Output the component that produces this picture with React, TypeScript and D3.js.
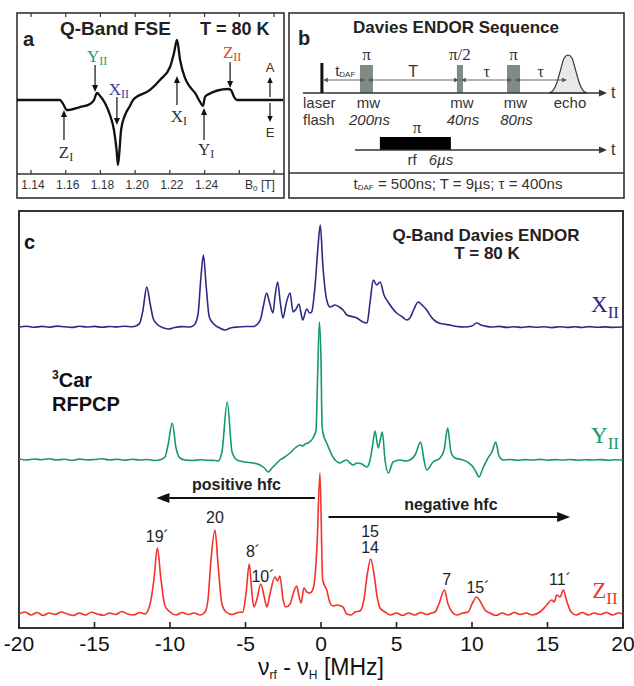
import React from 'react';
import * as d3 from 'd3';

const sans = '"Liberation Sans", Arial, Helvetica, sans-serif';
const serif = '"Liberation Serif", "Times New Roman", serif';

// ---- panel a: Q-band field swept echo (B0 in T, amplitude a.u.) ----
const fseField = [1.1319, 1.1567, 1.1584, 1.1607, 1.1682, 1.174, 1.1763, 1.178, 1.1798, 1.1826,
  1.1855, 1.1878, 1.1893, 1.1901, 1.191, 1.1919, 1.1942, 1.197, 1.1988, 1.2086,
  1.2143, 1.2201, 1.2224, 1.2241, 1.2259, 1.2287, 1.2316, 1.2345, 1.2374, 1.2391,
  1.2402, 1.2414, 1.2535, 1.2552, 1.257, 1.2587, 1.2852];
const fseAmp = [0, 0, -0.06, -0.167, -0.117, -0.067, 0, 0.117, 0.067, -0.05,
  -0.25, -0.5, -0.833, -1.083, -0.833, -0.5, -0.25, -0.1, 0, 0.167,
  0.333, 0.55, 0.783, 1.0, 0.667, 0.367, 0.217, 0.117, -0.033, -0.1,
  0.05, 0.083, 0.183, 0.167, 0.05, 0, 0];
const fseTicks = [1.14, 1.16, 1.18, 1.2, 1.22, 1.24, 1.26, 1.28];
const fseTickLabels = ['1.14', '1.16', '1.18', '1.20', '1.22', '1.24'];
const fseMarkers = [
  { name: 'Z', sub: 'I', field: 1.159, from: -0.667, to: -0.167, label: -0.967, color: '#333' },
  { name: 'Y', sub: 'II', field: 1.1769, from: 0.583, to: 0.133, label: 0.633, color: '#1a9b74' },
  { name: 'X', sub: 'II', field: 1.1895, from: 0.05, to: -0.417, label: 0.083, color: '#3b3a9c' },
  { name: 'X', sub: 'I', field: 1.2241, from: -0.083, to: 0.4, label: -0.367, color: '#333' },
  { name: 'Y', sub: 'I', field: 1.2397, from: -0.667, to: -0.133, label: -0.917, color: '#333' },
  { name: 'Z', sub: 'II', field: 1.2547, from: 0.633, to: 0.2, label: 0.7, color: '#e8402f' },
];

// ---- panel b: Davies ENDOR sequence (schematic time units 0..100) ----
const laserAt = 5.6;
const mwPulses = [
  { flip: 'π', start: 18.2, end: 22.5, len: '200ns' },
  { flip: 'π/2', start: 50.3, end: 52.3, len: '40ns' },
  { flip: 'π', start: 66.9, end: 71.2, len: '80ns' },
];
const echoAt = 87.1;
const echoOffset = [-6.3, -5, -3.8, -2.5, -1.3, 0, 1.3, 2.5, 3.8, 5, 6.3];
const echoAmp = [0, 0.06, 0.25, 0.6, 0.92, 1, 0.92, 0.6, 0.25, 0.06, 0];
const rfPulse = { start: 24.8, end: 48.3, len: '6µs' };
const delays = ['tDAF', 'T', 'τ', 'τ'];

// ---- panel c: Q-band Davies ENDOR spectra [nu_rf - nu_H (MHz), intensity] ----
const xIISpectrum = [[-20, 0], [-19.5, 0.8], [-19, -0.3], [-18.5, 0.6], [-18, -0.2], [-17.5, 0.9], [-17, 0.2], [-16.5, -0.4], [-16, 0.7], [-15.5, 0], [-15, 0.6], [-14.5, -0.3], [-14, 0.5], [-13.5, 0.1], [-13, 0.8], [-12.5, 0.2], [-12.2, 1.5], [-12.0, 4], [-11.8, 16], [-11.54, 40], [-11.3, 22], [-11.1, 8], [-10.8, 2], [-10.4, -1], [-10.1, -2], [-9.7, -0.5], [-9.2, 0.4], [-8.7, 0], [-8.4, 2], [-8.15, 12], [-7.95, 50], [-7.79, 72], [-7.6, 40], [-7.4, 10], [-7.1, 3], [-6.7, -1], [-6.36, -3], [-6.0, -1], [-5.5, 0], [-5.0, 0.5], [-4.5, 0.5], [-4.2, 3], [-4.0, 8], [-3.8, 22], [-3.6, 34], [-3.4, 24], [-3.18, 14], [-3.05, 30], [-2.87, 45], [-2.7, 25], [-2.52, 9], [-2.3, 24], [-2.05, 34], [-1.85, 15], [-1.65, 18], [-1.46, 23], [-1.3, 12], [-1.21, 7], [-0.95, 18], [-0.75, 14], [-0.62, 15], [-0.4, 40], [-0.2, 80], [-0.05, 102], [0.13, 60], [0.38, 27], [0.6, 20], [0.93, 22], [1.2, 20], [1.46, 17], [1.72, 12], [2.38, 9], [2.78, 5], [3.05, 4], [3.25, 25], [3.46, 47], [3.69, 42], [3.91, 45], [4.17, 32], [4.44, 25], [5.01, 14], [5.4, 10], [5.68, 7], [5.89, 9], [6.16, 18], [6.44, 25], [6.69, 22], [7.0, 17], [7.3, 10], [7.66, 5], [8.1, 3], [8.54, 2], [9.0, 0.5], [9.5, 0], [10.0, 1], [10.31, 4], [10.6, 2], [10.86, 1], [11.3, 0], [11.8, 0.6], [12.3, -0.4], [12.8, 0.3], [13.3, -0.5], [13.8, 0.4], [14.3, -0.3], [14.8, 0.2], [15.3, -0.6], [15.8, 0.3], [16.3, -0.4], [16.8, 0.2], [17.3, -0.5], [17.8, 0.4], [18.3, -0.3], [18.8, 0.1], [19.3, -0.4], [20, 0]];

const yIISpectrum = [[-20, 1], [-19.5, 0], [-19, 1], [-18.5, 0.3], [-18, 1.2], [-17.5, 0], [-17, 0.8], [-16.5, -0.3], [-16, 0.9], [-15.5, 0], [-15, 0.5], [-14.5, 1.2], [-14, 0], [-13.5, 0.7], [-13, -0.2], [-12.5, 0.8], [-12, 0], [-11.5, 0.5], [-11, -0.5], [-10.6, 0.5], [-10.33, 3], [-10.13, 15], [-9.85, 37], [-9.6, 12], [-9.34, 2], [-9.0, 0], [-8.5, -0.5], [-8.0, 0.3], [-7.5, -0.3], [-7.0, -0.5], [-6.82, -1], [-6.56, 8], [-6.21, 58], [-5.89, 8], [-5.56, 0], [-5.03, -2], [-4.5, -3], [-4.04, -5], [-3.75, -8], [-3.49, -12], [-3.25, -8], [-3.05, -5], [-2.72, 0], [-2.4, 3], [-2.05, 7], [-1.72, 12], [-1.39, 15], [-1.2, 14], [-1.06, 16], [-0.86, 17], [-0.53, 22], [-0.33, 30], [-0.23, 80], [-0.11, 138], [0.0, 100], [0.07, 35], [0.13, 27], [0.38, 17], [0.79, 3], [1.0, -1], [1.26, -3], [1.5, -1], [1.7, 0], [1.92, -3], [2.12, -5], [2.4, -3], [2.7, -4], [3.03, -7], [3.25, 0], [3.42, 15], [3.58, 29], [3.79, 12], [3.92, 20], [4.06, 28], [4.24, 0], [4.46, -13], [4.77, -2], [5.23, 0], [5.6, -1], [5.89, 0], [6.23, 5], [6.6, 18], [6.82, 0], [7.0, -10], [7.42, -2], [7.88, 2], [8.15, 10], [8.39, 32], [8.61, 8], [8.87, 2], [9.4, 0], [9.8, -3], [10.07, -7], [10.3, -13], [10.46, -17], [10.73, -8], [11.06, 2], [11.32, 8], [11.57, 18], [11.79, 4], [12.05, 0], [12.5, 0.5], [13, -0.3], [13.5, 0.4], [14, 0], [14.5, 0.6], [15, -0.2], [15.5, 0.4], [16, 0], [16.5, 0.5], [17, -0.3], [17.5, 0.3], [18, 0], [18.5, 0.4], [19, -0.2], [19.5, 0.3], [20, 0]];

const zIISpectrum = [[-20, 0], [-19.6, 2], [-19.2, -1], [-18.8, 1.5], [-18.4, -1.5], [-18, 1], [-17.6, -0.5], [-17.2, 2], [-16.8, 0], [-16.4, -1.5], [-16, 1], [-15.6, -1], [-15.2, 1.8], [-14.8, 0], [-14.4, -1.2], [-14, 1], [-13.6, -0.5], [-13.2, 2.5], [-12.8, 0], [-12.4, -1], [-12, 1.5], [-11.66, 0], [-11.32, 10], [-11.06, 35], [-10.84, 66], [-10.6, 35], [-10.33, 8], [-10.0, 2], [-9.6, -1], [-9.2, 1.5], [-8.8, -0.5], [-8.4, 1], [-8.0, -1], [-7.68, 2], [-7.48, 15], [-7.28, 55], [-7.02, 84], [-6.82, 50], [-6.56, 10], [-6.29, 2], [-5.9, -0.5], [-5.5, 1.5], [-5.17, 2], [-4.97, 20], [-4.75, 50], [-4.57, 20], [-4.44, 7], [-4.24, 15], [-3.99, 30], [-3.77, 18], [-3.58, 7], [-3.38, 20], [-3.05, 37], [-2.88, 33], [-2.72, 38], [-2.52, 15], [-2.32, 7], [-2.05, 10], [-1.85, 20], [-1.61, 28], [-1.46, 18], [-1.32, 11], [-1.13, 26], [-0.93, 22], [-0.73, 21], [-0.53, 25], [-0.4, 37], [-0.26, 70], [-0.07, 141], [0.11, 34], [0.38, 24], [0.6, 11], [0.79, 8], [1.04, 9], [1.46, 7], [1.7, 0], [2.0, -1], [2.25, 2], [2.58, 3], [2.85, 15], [3.05, 38], [3.29, 55], [3.51, 40], [3.71, 18], [3.91, 6], [4.24, 2], [4.6, -1], [5.0, 1], [5.4, -1.5], [5.8, 1], [6.2, -1], [6.6, 1.5], [7.0, -0.5], [7.3, 1], [7.55, 2], [7.81, 10], [8.17, 24], [8.41, 10], [8.68, 2], [9.0, -1], [9.4, 1], [9.74, 2], [10.0, 10], [10.31, 17], [10.53, 13], [10.86, 4], [11.19, 1], [11.6, -1.5], [12, 1], [12.4, -1], [12.8, 1.5], [13.2, -0.5], [13.6, 1], [14.0, -1], [14.5, 2], [14.9, 8], [15.28, 14], [15.45, 12], [15.61, 19], [15.83, 17], [16.05, 24], [16.29, 12], [16.56, 2], [16.9, -1], [17.3, 1.5], [17.7, -1], [18.1, 1], [18.5, -0.5], [18.9, 1.5], [19.3, -1], [19.7, 1], [20, 0]];

const freqTicks = [-20, -15, -10, -5, 0, 5, 10, 15, 20];
// assignment labels over the Z_II trace: [text lines, MHz, intensity of label baseline]
const peakLabels = [
  { lines: ['19´'], freq: -10.84, level: 72 },
  { lines: ['20'], freq: -7.02, level: 91 },
  { lines: ['8´'], freq: -4.5, level: 57 },
  { lines: ['10´'], freq: -3.84, level: 32 },
  { lines: ['15', '14'], freq: 3.25, level: 61 },
  { lines: ['7'], freq: 8.32, level: 29 },
  { lines: ['15´'], freq: 10.4, level: 21 },
  { lines: ['11´'], freq: 15.83, level: 29 },
];
const hfcArrows = [
  { label: 'positive hfc', from: -0.4, to: -10.9, level: 116, textAt: -5.6, textLevel: 124 },
  { label: 'negative hfc', from: 0.5, to: 16.5, level: 97, textAt: 8.6, textLevel: 104 },
];

function Arrow({ x1, y1, x2, y2, head = 8, half = 3.5, width = 1.3, color = '#111' }) {
  const ang = Math.atan2(y2 - y1, x2 - x1);
  const bx = x2 - head * Math.cos(ang);
  const by = y2 - head * Math.sin(ang);
  const px = -Math.sin(ang) * half;
  const py = Math.cos(ang) * half;
  return (
    <g>
      <line x1={x1} y1={y1} x2={bx} y2={by} stroke={color} strokeWidth={width} />
      <path d={`M${x2},${y2}L${bx + px},${by + py}L${bx - px},${by - py}Z`} fill={color} />
    </g>
  );
}

function SubLabel({ x, y, name, sub, size, subSize, color, dy = 4 }) {
  return (
    <text x={x} y={y} textAnchor="middle" fontFamily={serif} fontSize={size} fill={color}>
      {name}
      <tspan fontSize={subSize} dy={dy}>{sub}</tspan>
    </text>
  );
}

function PanelA() {
  const xA = d3.scaleLinear().domain([1.14, 1.28]).range([31, 274]);
  const yA = d3.scaleLinear().domain([-1, 1]).range([160, 40]);
  const path = d3.line().x((_, i) => xA(fseField[i])).y((d) => yA(d)).curve(d3.curveMonotoneX)(fseAmp);
  return (
    <g>
      <rect x={17} y={13} width={267} height={185} fill="none" stroke="#333" strokeWidth={1.6} />
      <line x1={17} x2={284} y1={174} y2={174} stroke="#333" strokeWidth={1.3} />
      {fseTicks.map((t) => (
        <g key={t}>
          <line x1={xA(t)} x2={xA(t)} y1={13} y2={17} stroke="#333" strokeWidth={1.2} />
          <line x1={xA(t)} x2={xA(t)} y1={174} y2={170} stroke="#333" strokeWidth={1.2} />
        </g>
      ))}
      {fseTickLabels.map((t, i) => (
        <text key={t} x={xA(fseTicks[i]) + 2} y={189} textAnchor="middle" fontFamily={sans} fontSize={12} fill="#333">{t}</text>
      ))}
      <text x={260} y={189} textAnchor="middle" fontFamily={sans} fontSize={12} fill="#333">
        B<tspan fontSize={8} dy={2}>0</tspan><tspan dy={-2}> [T]</tspan>
      </text>
      <text x={23} y={46} fontFamily={sans} fontWeight="bold" fontSize={20} fill="#222">a</text>
      <text x={60} y={35} fontFamily={sans} fontWeight="bold" fontSize={19} fill="#222">Q-Band FSE</text>
      <text x={200} y={35} fontFamily={sans} fontWeight="bold" fontSize={18} fill="#222">T = 80 K</text>
      <path d={path} fill="none" stroke="#111" strokeWidth={2.3} strokeLinejoin="round" />
      {fseMarkers.map((m, i) => (
        <g key={i}>
          <Arrow x1={xA(m.field)} y1={yA(m.from)} x2={xA(m.field)} y2={yA(m.to)} head={7} half={3} width={1.2} />
          <SubLabel x={xA(m.field) + 2} y={yA(m.label)} name={m.name} sub={m.sub} size={17} subSize={12} color={m.color} dy={3} />
        </g>
      ))}
      <text x={270} y={72} textAnchor="middle" fontFamily={sans} fontSize={13} fill="#333">A</text>
      <Arrow x1={270} y1={97} x2={270} y2={77} head={6} half={2.8} width={1.2} />
      <Arrow x1={270} y1={103} x2={270} y2={122} head={6} half={2.8} width={1.2} />
      <text x={270} y={137} textAnchor="middle" fontFamily={sans} fontSize={13} fill="#333">E</text>
    </g>
  );
}

function PanelB() {
  const tB = d3.scaleLinear().domain([0, 100]).range([305, 607]);
  const axisY = 93;
  const rfY = 150;
  const arrowY = 80;
  const echoPath = d3.area()
    .x((_, i) => tB(echoAt + echoOffset[i]))
    .y0(axisY)
    .y1((d) => axisY - 38 * d)
    .curve(d3.curveMonotoneX)(echoAmp);
  const marks = [laserAt, ...mwPulses.map((p) => (p.start + p.end) / 2), echoAt];
  return (
    <g>
      <rect x={289} y={13} width={335} height={185} fill="none" stroke="#333" strokeWidth={1.6} />
      <line x1={289} x2={624} y1={173} y2={173} stroke="#333" strokeWidth={1.3} />
      <text x={298} y={45} fontFamily={sans} fontWeight="bold" fontSize={20} fill="#222">b</text>
      <text x={456} y={33} textAnchor="middle" fontFamily={sans} fontWeight="bold" fontSize={17} fill="#222">Davies ENDOR Sequence</text>
      <path d={echoPath} fill="#e8e8e8" stroke="#333" strokeWidth={1.2} />
      {mwPulses.map((p, i) => (
        <g key={i}>
          <rect x={tB(p.start)} y={65} width={tB(p.end) - tB(p.start)} height={axisY - 65} fill="#7f8b82" />
          <text x={tB((p.start + p.end) / 2)} y={60} textAnchor="middle" fontFamily={serif} fontSize={17} fill="#333">{p.flip}</text>
          <text x={tB((p.start + p.end) / 2) + 2} y={108} textAnchor="middle" fontFamily={sans} fontSize={15} fill="#333">mw</text>
          <text x={tB((p.start + p.end) / 2) + 3} y={125} textAnchor="middle" fontFamily={sans} fontStyle="italic" fontSize={15} fill="#333">{p.len}</text>
        </g>
      ))}
      <Arrow x1={tB(-0.7)} y1={axisY} x2={607} y2={axisY} head={8} half={3.5} width={1.3} color="#333" />
      <text x={611} y={98} fontFamily={sans} fontSize={16} fill="#333">t</text>
      <line x1={tB(laserAt)} x2={tB(laserAt)} y1={63} y2={axisY} stroke="#111" strokeWidth={3} />
      {delays.map((d, i) => {
        const a = tB(marks[i]);
        const b = tB(marks[i + 1]);
        const mid = (a + b) / 2;
        return (
          <g key={i}>
            <Arrow x1={mid} y1={arrowY} x2={a + 1} y2={arrowY} head={5} half={2.2} width={0.9} color="#555" />
            <Arrow x1={mid} y1={arrowY} x2={b - 1} y2={arrowY} head={5} half={2.2} width={0.9} color="#555" />
            {d === 'tDAF' ? (
              <g>
                <rect x={mid - 10} y={63} width={24} height={16} fill="#fff" />
                <text x={mid - 9} y={76} fontFamily={sans} fontSize={15} fill="#333">t<tspan fontSize={8} dy={1}>DAF</tspan></text>
              </g>
            ) : (
              <text x={mid} y={77} textAnchor="middle" fontFamily={d === 'T' ? sans : serif} fontSize={16} fill="#333">{d}</text>
            )}
          </g>
        );
      })}
      <text x={303} y={108} fontFamily={sans} fontSize={15} fill="#333">laser</text>
      <text x={303} y={125} fontFamily={sans} fontSize={15} fill="#333">flash</text>
      <text x={tB(echoAt) + 2} y={108} textAnchor="middle" fontFamily={sans} fontSize={15} fill="#333">echo</text>
      <rect x={tB(rfPulse.start)} y={137} width={tB(rfPulse.end) - tB(rfPulse.start)} height={rfY - 137} fill="#000" />
      <text x={417} y={133} textAnchor="middle" fontFamily={serif} fontSize={17} fill="#333">π</text>
      <Arrow x1={355} y1={rfY} x2={607} y2={rfY} head={8} half={3.5} width={1.3} color="#333" />
      <text x={611} y={155} fontFamily={sans} fontSize={16} fill="#333">t</text>
      <text x={412} y={165} textAnchor="middle" fontFamily={sans} fontSize={15} fill="#333">rf</text>
      <text x={441} y={165} textAnchor="middle" fontFamily={sans} fontStyle="italic" fontSize={15} fill="#333">{rfPulse.len}</text>
      <text x={458} y={189} textAnchor="middle" fontFamily={sans} fontSize={15} fill="#333">
        t<tspan fontSize={8} dy={1}>DAF</tspan><tspan dy={-1}> = 500ns; T = 9µs; τ = 400ns</tspan>
      </text>
    </g>
  );
}

function PanelC() {
  const xC = d3.scaleLinear().domain([-20, 20]).range([19, 623]);
  const traces = [
    { data: xIISpectrum, base: 327, color: '#2c2a84', name: 'X', labelY: 312 },
    { data: yIISpectrum, base: 460, color: '#14996d', name: 'Y', labelY: 443 },
    { data: zIISpectrum, base: 614, color: '#f4302a', name: 'Z', labelY: 598 },
  ];
  const zY = d3.scaleLinear().domain([0, 100]).range([614, 514]);
  return (
    <g>
      <defs>
        <clipPath id="cClip"><rect x={19} y={212} width={604} height={415} /></clipPath>
      </defs>
      <rect x={19} y={211} width={604} height={417} fill="none" stroke="#333" strokeWidth={2} />
      {freqTicks.map((t) => (
        <g key={t}>
          <line x1={xC(t)} x2={xC(t)} y1={628} y2={622} stroke="#222" strokeWidth={1.6} />
          <text x={xC(t)} y={651} textAnchor="middle" fontFamily={sans} fontSize={21} fill="#111">{t}</text>
        </g>
      ))}
      <text x={321} y={675} textAnchor="middle" fontFamily={sans} fontSize={23} fill="#111">
        ν<tspan fontSize={12} dy={4}>rf</tspan><tspan dy={-4}> - ν</tspan><tspan fontSize={12} dy={4}>H</tspan><tspan dy={-4}> [MHz]</tspan>
      </text>
      <text x={24} y={249} fontFamily={sans} fontWeight="bold" fontSize={20} fill="#111">c</text>
      <text x={486} y={241} textAnchor="middle" fontFamily={sans} fontWeight="bold" fontSize={17} fill="#222">Q-Band Davies ENDOR</text>
      <text x={487} y={259} textAnchor="middle" fontFamily={sans} fontWeight="bold" fontSize={17} fill="#222">T = 80 K</text>
      <text x={52} y={387} fontFamily={sans} fontWeight="bold" fontSize={20} fill="#111">
        <tspan fontSize={12} dy={-8}>3</tspan><tspan dy={8}>Car</tspan>
      </text>
      <text x={52} y={411} fontFamily={sans} fontWeight="bold" fontSize={20} fill="#111">RFPCP</text>
      <g clipPath="url(#cClip)">
        {traces.map((tr) => {
          const yS = d3.scaleLinear().domain([0, 100]).range([tr.base, tr.base - 100]);
          const d = d3.line().x((p) => xC(p[0])).y((p) => yS(p[1])).curve(d3.curveMonotoneX)(tr.data);
          return <path key={tr.name} d={d} fill="none" stroke={tr.color} strokeWidth={1.6} strokeLinejoin="round" />;
        })}
      </g>
      {traces.map((tr) => (
        <SubLabel key={tr.name} x={605} y={tr.labelY} name={tr.name} sub="II" size={23} subSize={17} color={tr.color} dy={6} />
      ))}
      {hfcArrows.map((a) => (
        <g key={a.label}>
          <Arrow x1={xC(a.from)} y1={zY(a.level)} x2={xC(a.to)} y2={zY(a.level)} head={13} half={5} width={2} color="#111" />
          <text x={xC(a.textAt)} y={zY(a.textLevel)} textAnchor="middle" fontFamily={sans} fontWeight="bold" fontSize={16} fill="#222">{a.label}</text>
        </g>
      ))}
      {peakLabels.map((p) => (
        <text key={p.lines.join('')} x={xC(p.freq)} y={zY(p.level)} textAnchor="middle" fontFamily={sans} fontSize={16} fill="#222">
          {p.lines.map((l, i) => (
            <tspan key={i} x={xC(p.freq)} dy={i === 0 ? -(p.lines.length - 1) * 16.5 : 16.5}>{l}</tspan>
          ))}
        </text>
      ))}
    </g>
  );
}

export default function App() {
  return (
    <svg width={634} height={686} viewBox="0 0 634 686" style={{ position: 'absolute', left: 0, top: 0, background: '#fff' }}>
      <rect width={634} height={686} fill="#fff" />
      <PanelA />
      <PanelB />
      <PanelC />
    </svg>
  );
}
